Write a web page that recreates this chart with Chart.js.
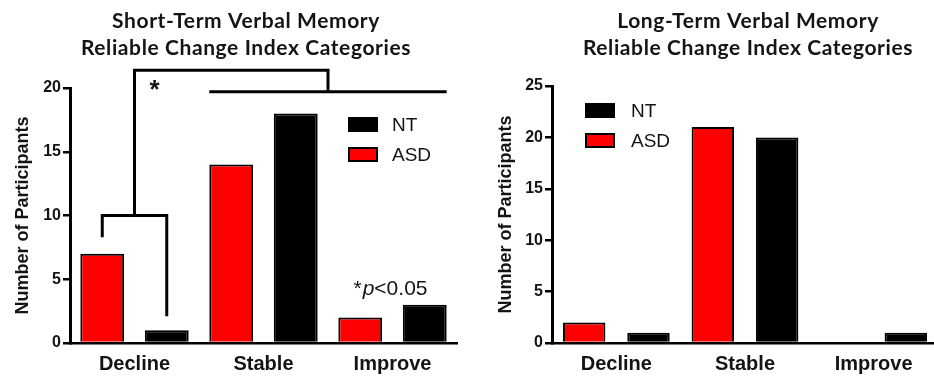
<!DOCTYPE html>
<html>
<head>
<meta charset="utf-8">
<script src="https://cdn.jsdelivr.net/npm/chart.js@4.4.1/dist/chart.umd.min.js"></script>
<style>
  html, body { margin: 0; padding: 0; background: #ffffff; }
  #wrap { position: relative; width: 934px; height: 382px; overflow: hidden; }
  .panel { position: absolute; top: 0; height: 382px; }
  #p1 { left: 0; width: 467px; }
  #p2 { left: 467px; width: 471px; }
</style>
</head>
<body>
<div id="wrap">
  <div class="panel" id="p1"><canvas id="shortTerm" width="467" height="382"></canvas></div>
  <div class="panel" id="p2"><canvas id="longTerm" width="471" height="382"></canvas></div>
</div>
<script>
// Reliable Change Index category counts per group
const categories = ['Decline', 'Stable', 'Improve'];
const groupNames = ['ASD', 'NT'];

const shortTermASD = [7, 14, 2];
const shortTermNT = [1, 18, 3];
const longTermASD = [2, 21, 0];
const longTermNT = [1, 20, 1];

const shortTermTicks = [0, 5, 10, 15, 20];
const longTermTicks = [0, 5, 10, 15, 20, 25];

const shortTermTitle = ['Short-Term Verbal Memory', 'Reliable Change Index Categories'];
const longTermTitle = ['Long-Term Verbal Memory', 'Reliable Change Index Categories'];
const yAxisTitle = 'Number of Participants';
const significanceNote = ['*', 'p', '<0.05'];

const INK = '#141414';
const RED = '#ff0000';
const BLACK = '#000000';
const SANS = '"Liberation Sans", Arial, sans-serif';
const TITLE_FONT = 'bold 21px Lato, "Open Sans", sans-serif';

// Two-line heading drawn centred at a given x
const panelTitle = {
  id: 'panelTitle',
  afterDraw(chart, args, opts) {
    const ctx = chart.ctx;
    ctx.save();
    ctx.font = opts.font;
    if ('letterSpacing' in ctx) ctx.letterSpacing = opts.spacing;
    ctx.fillStyle = INK;
    ctx.textAlign = 'center';
    ctx.textBaseline = 'middle';
    opts.lines.forEach((t, i) => ctx.fillText(t, opts.x, opts.y + i * opts.lineGap));
    ctx.restore();
  }
};

// Legend boxes placed inside the plot area, NT listed above ASD
const insetLegend = {
  id: 'insetLegend',
  afterDraw(chart, args, opts) {
    const { ctx, chartArea: a } = chart;
    ctx.save();
    opts.order.forEach((di, row) => {
      const ds = chart.data.datasets[di];
      const x = a.left + opts.dx;
      const y = a.top + opts.dy + row * opts.rowGap;
      ctx.fillStyle = ds.backgroundColor;
      ctx.fillRect(x, y, opts.boxW, opts.boxH);
      ctx.lineWidth = 2;
      ctx.strokeStyle = BLACK;
      ctx.strokeRect(x + 1, y + 1, opts.boxW - 2, opts.boxH - 2);
      ctx.font = opts.font;
      ctx.fillStyle = INK;
      ctx.textAlign = 'left';
      ctx.textBaseline = 'middle';
      ctx.fillText(ds.label, x + opts.boxW + opts.textGap, y + opts.boxH / 2 + 1);
    });
    ctx.restore();
  }
};

// Comparison brackets and the significance note
const significance = {
  id: 'significance',
  afterDatasetsDraw(chart, args, opts) {
    const { ctx, scales: { x, y } } = chart;
    const asd = chart.getDatasetMeta(0).data;
    const nt = chart.getDatasetMeta(1).data;
    const Y = v => y.getPixelForValue(v);
    ctx.save();
    ctx.strokeStyle = BLACK;
    ctx.lineWidth = 3;
    ctx.lineJoin = 'miter';

    // ASD vs NT within Decline
    const l = asd[0].x, r = nt[0].x, m = x.getPixelForValue(0);
    ctx.beginPath();
    ctx.moveTo(l, Y(opts.leftLeg));
    ctx.lineTo(l, Y(opts.pairTop));
    ctx.lineTo(r, Y(opts.pairTop));
    ctx.lineTo(r, Y(opts.rightLeg));
    ctx.stroke();

    // Decline vs Stable + Improve
    const s0 = asd[1].x - asd[1].width / 2;
    const s1 = nt[2].x + nt[2].width / 2;
    const sm = (s0 + s1) / 2;
    ctx.beginPath();
    ctx.moveTo(m, Y(opts.pairTop));
    ctx.lineTo(m, Y(opts.outerTop));
    ctx.lineTo(sm, Y(opts.outerTop));
    ctx.lineTo(sm, Y(opts.groupBar));
    ctx.stroke();
    ctx.beginPath();
    ctx.moveTo(s0, Y(opts.groupBar));
    ctx.lineTo(s1, Y(opts.groupBar));
    ctx.stroke();

    // star beside the long bracket
    ctx.fillStyle = INK;
    ctx.font = 'bold 26px ' + SANS;
    ctx.textAlign = 'left';
    ctx.textBaseline = 'alphabetic';
    const mt = ctx.measureText('*');
    const mid = (mt.actualBoundingBoxAscent - mt.actualBoundingBoxDescent) / 2;
    ctx.fillText('*', m + opts.starDx, Y(opts.starAt) + mid);

    // *p<0.05 note above the Improve group
    let nx = x.getPixelForValue(2) + opts.noteDx;
    const ny = Y(opts.noteBase);
    const fonts = ['21px ' + SANS, 'italic 21px ' + SANS, '21px ' + SANS];
    significanceNote.forEach((t, i) => {
      ctx.font = fonts[i];
      ctx.fillText(t, nx, ny);
      nx += ctx.measureText(t).width + (i === 0 ? 1 : 0);
    });
    ctx.restore();
  }
};

function makeChart(canvasId, asd, nt, ticks, yMax, title, layout, legendPos, extraPlugins, extraOpts) {
  return new Chart(document.getElementById(canvasId), {
    type: 'bar',
    data: {
      labels: categories,
      datasets: [
        { label: groupNames[0], data: asd, backgroundColor: RED, borderColor: BLACK, borderWidth: 2 },
        { label: groupNames[1], data: nt, backgroundColor: BLACK, borderColor: BLACK, borderWidth: 2 }
      ]
    },
    options: {
      responsive: false,
      animation: false,
      devicePixelRatio: 1,
      layout: { padding: layout.padding },
      datasets: { bar: { categoryPercentage: 1.0, barPercentage: layout.barPct } },
      scales: {
        x: {
          grid: { display: false, drawTicks: false },
          border: { display: true, color: BLACK, width: 2.5 },
          ticks: { font: { family: SANS, size: 20, weight: 'bold' }, color: INK, padding: 9 },
          afterFit: s => { s.height = layout.xHeight; }
        },
        y: {
          min: 0,
          max: yMax,
          afterBuildTicks: s => { s.ticks = ticks.map(v => ({ value: v })); },
          afterFit: s => { s.width = layout.yWidth; },
          grid: { drawOnChartArea: false, drawTicks: true, tickLength: 7, color: BLACK, lineWidth: 2.5 },
          border: { display: true, color: BLACK, width: 3 },
          ticks: { font: { family: SANS, size: 16, weight: 'bold' }, color: INK, padding: 2 },
          title: {
            display: true,
            text: yAxisTitle,
            font: { family: SANS, size: 18, weight: 'bold' },
            color: INK,
            padding: { top: 12, bottom: 0 }
          }
        }
      },
      plugins: Object.assign({
        legend: { display: false },
        tooltip: { enabled: false },
        panelTitle: { lines: title, x: layout.titleX, y: 21, lineGap: 27, font: TITLE_FONT, spacing: '0.6px' },
        insetLegend: Object.assign({ order: [1, 0], rowGap: 30, boxW: 30, boxH: 15, font: '19px ' + SANS }, legendPos)
      }, extraOpts)
    },
    plugins: [panelTitle, insetLegend].concat(extraPlugins)
  });
}

makeChart('shortTerm', shortTermASD, shortTermNT, shortTermTicks, 20, shortTermTitle,
  { padding: { top: 88, right: 10, bottom: 0, left: 0 }, yWidth: 70, xHeight: 39, titleX: 246, barPct: 0.68 },
  { dx: 278, dy: 29, textGap: 14 },
  [significance],
  { significance: { leftLeg: 8.3, rightLeg: 2.1, pairTop: 10, outerTop: 21.4, groupBar: 19.7,
                    starDx: 15, starAt: 20.2, noteDx: -39, noteBase: 3.75 } });

makeChart('longTerm', longTermASD, longTermNT, longTermTicks, 25, longTermTitle,
  { padding: { top: 86, right: 0, bottom: 0, left: 16 }, yWidth: 69, xHeight: 39, titleX: 281, barPct: 0.66 },
  { dx: 33, dy: 17, textGap: 16 },
  [], {});
</script>
</body>
</html>
